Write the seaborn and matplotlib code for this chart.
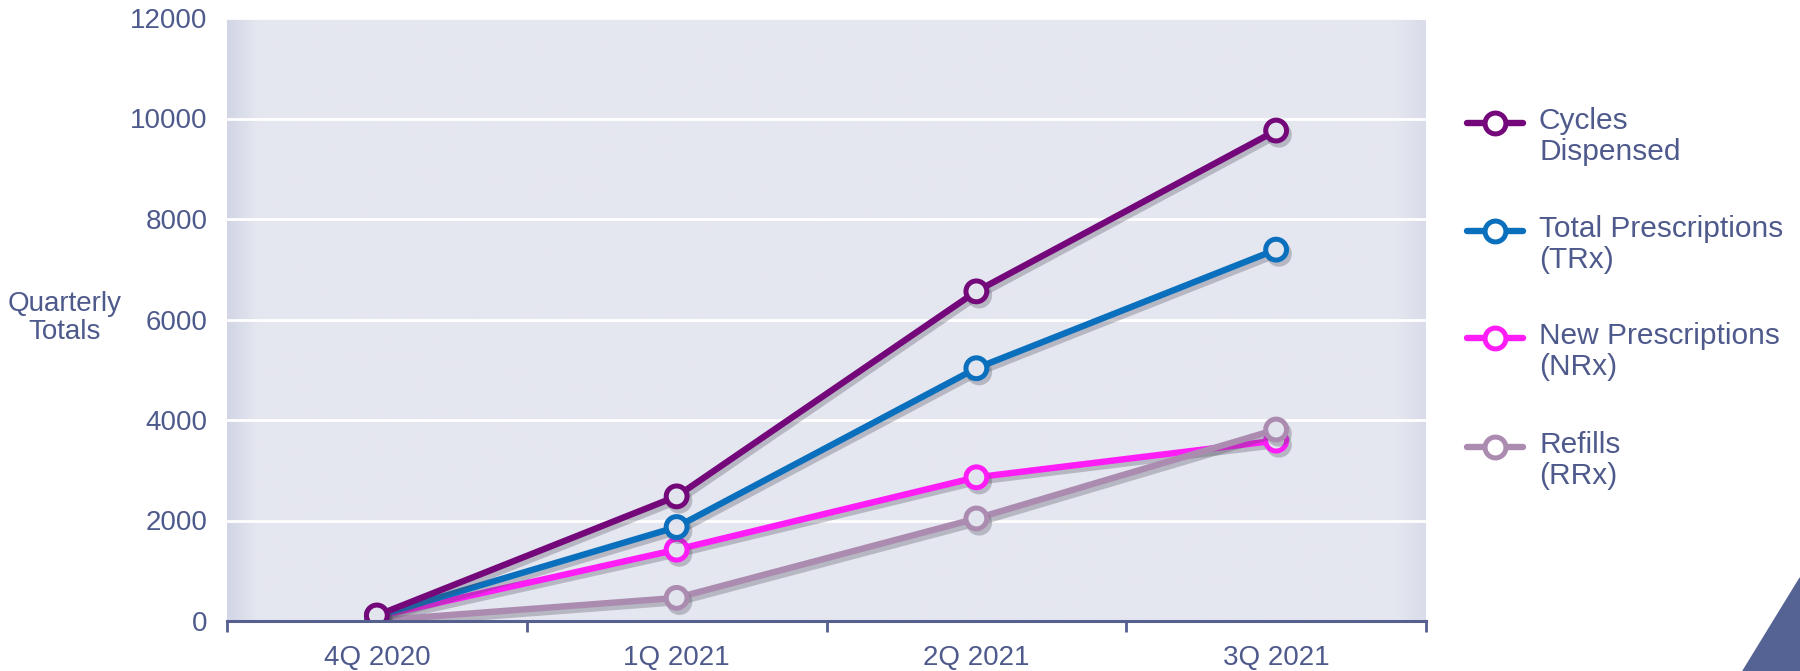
import numpy as np
import matplotlib
matplotlib.use("Agg")
import matplotlib.pyplot as plt
import matplotlib.patheffects as pe
from matplotlib.lines import Line2D
from matplotlib.patches import Polygon
import seaborn as sns

# data
quarters = ["4Q 2020", "1Q 2021", "2Q 2021", "3Q 2021"]
cycles_dispensed = [110, 2480, 6560, 9760]
total_rx = [100, 1870, 5030, 7390]
new_rx = [90, 1420, 2860, 3590]
refills = [10, 460, 2040, 3810]

labels = ["Cycles\nDispensed", "Total Prescriptions\n(TRx)", "New Prescriptions\n(NRx)", "Refills\n(RRx)"]
colors = ["#74087a", "#0a70bd", "#ff1cf6", "#ab8cb0"]
y_ticks = [0, 2000, 4000, 6000, 8000, 10000, 12000]

text_color = "#4f5a8c"
bg = "#e5e7f0"

sns.set_style("white")
plt.rcParams["font.family"] = ["Liberation Sans", "DejaVu Sans"]

fig = plt.figure(figsize=(18, 6.71), dpi=100)
ax = fig.add_axes([227 / 1800, 1 - 621 / 671, (1426 - 227) / 1800, (621 - 18) / 671])

# background with darker edges
grad = np.linspace(-1, 1, 600)
shade = np.clip(np.abs(grad) - 0.95, 0, None) / 0.05
shade[grad > 0] *= 0.6
c0 = np.array(matplotlib.colors.to_rgb(bg))
c1 = np.array(matplotlib.colors.to_rgb("#d2d5e5"))
img = c0[None, :] * (1 - shade[:, None]) + c1[None, :] * shade[:, None]
ax.imshow(img[None, :, :], extent=(-0.5, 3.5, 0, 12000), aspect="auto", zorder=-2)

shadow = [pe.SimpleLineShadow(offset=(2, -3), shadow_color="#4a4a5a", alpha=0.3), pe.Normal()]

series = {
    "nrx": (new_rx, colors[2]),
    "rrx": (refills, colors[3]),
    "trx": (total_rx, colors[1]),
    "cyc": (cycles_dispensed, colors[0]),
}
for key, (vals, col) in series.items():
    sns.lineplot(x=quarters, y=vals, ax=ax, color=col, lw=4.6, sort=False,
                 marker="o", markersize=15, markerfacecolor="#e2e4ee",
                 markeredgecolor=col, markeredgewidth=3.6, path_effects=shadow)

ax.set_xlim(-0.5, 3.5)
ax.set_ylim(0, 12000)
ax.set_yticks(y_ticks)
ax.set_yticklabels([str(t) for t in y_ticks])
ax.set_xticks(range(len(quarters)))
ax.set_xticklabels(quarters)
ax.set_xticks(np.arange(-0.5, 3.6, 1.0), minor=True)
ax.grid(axis="y", color="white", lw=2)
ax.grid(axis="x", visible=False)
ax.set_axisbelow(True)
for s in ["top", "right", "left"]:
    ax.spines[s].set_visible(False)
ax.spines["bottom"].set_color("#55608f")
ax.spines["bottom"].set_linewidth(2.2)
ax.tick_params(axis="x", which="major", bottom=False, length=0, pad=17, labelsize=20, labelcolor=text_color)
ax.tick_params(axis="x", which="minor", bottom=True, length=8, width=2, color="#55608f", direction="out")
ax.tick_params(axis="y", length=0, pad=14, labelsize=20, labelcolor=text_color)
ax.set_xlabel("")
ax.set_ylabel("")

fig.text(65 / 1800, 1 - 318 / 671, "Quarterly\nTotals", ha="center", va="center",
         multialignment="center", fontsize=20, color=text_color, linespacing=1.1)

# legend drawn beside the plot, handle aligned with first text line
ys = [123, 231, 338, 447]
for lab, col, yp in zip(labels, colors, ys):
    fy = 1 - yp / 671
    fig.add_artist(Line2D([1467 / 1800, 1523 / 1800], [fy, fy], transform=fig.transFigure,
                          color=col, lw=4.6, solid_capstyle="round"))
    fig.add_artist(Line2D([1495 / 1800], [fy], transform=fig.transFigure, marker="o",
                          markersize=15, markerfacecolor="white", markeredgecolor=col,
                          markeredgewidth=3.6))
    fig.text(1539 / 1800, fy + 16 / 671, lab, ha="left", va="top", fontsize=21.5,
             color=text_color, linespacing=1.15)

# corner decoration
fig.add_artist(Polygon([[1743 / 1800, 0], [1, 93 / 671], [1, 0]], closed=True,
                       transform=fig.transFigure, color="#556394"))

fig.savefig("out.png", dpi=100)
